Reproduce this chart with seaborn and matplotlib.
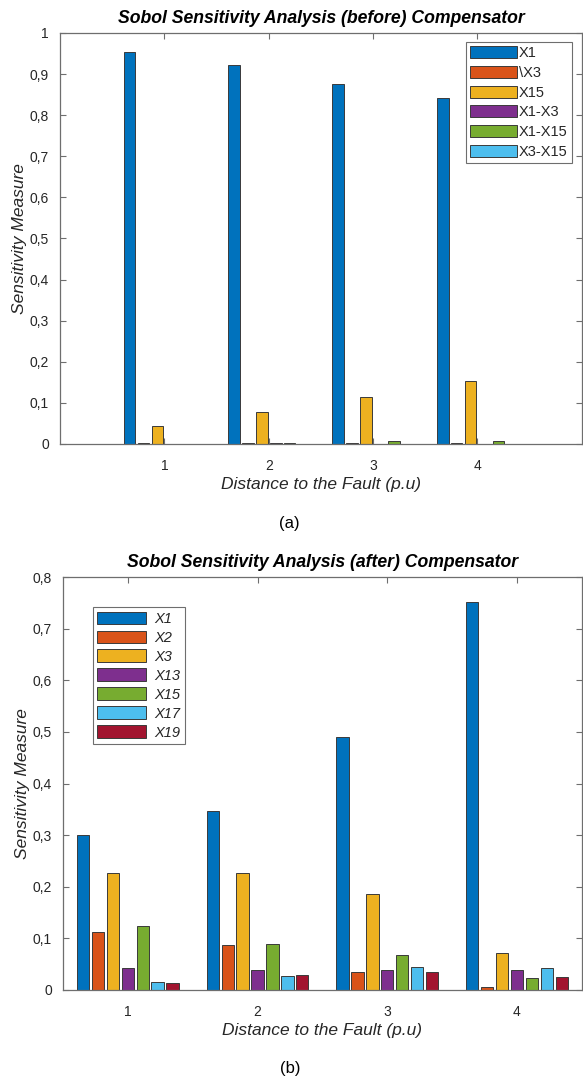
import numpy as np
import pandas as pd
import matplotlib
matplotlib.use("Agg")
import matplotlib.pyplot as plt
from matplotlib.patches import Patch
from matplotlib.ticker import FuncFormatter, MultipleLocator
import seaborn as sns

sns.set_theme(style="white")
plt.rcParams['font.family'] = ['Liberation Sans', 'DejaVu Sans']

# ---------------- data ----------------
distances = ["1", "2", "3", "4"]

top_params = ["X1", "\\X3", "X15", "X1-X3", "X1-X15", "X3-X15"]
top_x1 = [0.953, 0.922, 0.876, 0.841]
top_x3 = [0.002, 0.002, 0.002, 0.002]
top_x15 = [0.043, 0.077, 0.115, 0.153]
top_x1x3 = [0.001, 0.002, 0.001, 0.001]
top_x1x15 = [0.001, 0.002, 0.007, 0.007]
top_x3x15 = [0.001, 0.001, 0.001, 0.001]

bot_params = ["X1", "X2", "X3", "X13", "X15", "X17", "X19"]
bot_x1 = [0.300, 0.347, 0.490, 0.752]
bot_x2 = [0.112, 0.087, 0.034, 0.006]
bot_x3 = [0.227, 0.226, 0.186, 0.071]
bot_x13 = [0.043, 0.039, 0.038, 0.039]
bot_x15 = [0.124, 0.090, 0.068, 0.023]
bot_x17 = [0.015, 0.027, 0.045, 0.043]
bot_x19 = [0.013, 0.029, 0.035, 0.025]

colors = ["#0072BD", "#D95319", "#EDB120", "#7E2F8E", "#77AC30", "#4DBEEE", "#A2142F"]

top_vals = [top_x1, top_x3, top_x15, top_x1x3, top_x1x15, top_x3x15]
bot_vals = [bot_x1, bot_x2, bot_x3, bot_x13, bot_x15, bot_x17, bot_x19]


def long_df(params, vals):
    rows = []
    for p, v in zip(params, vals):
        for d, val in zip(distances, v):
            rows.append({"Distance": d, "Param": p, "Value": val})
    return pd.DataFrame(rows)


df_top = long_df(top_params, top_vals)
df_bot = long_df(bot_params, bot_vals)

fig = plt.figure(figsize=(5.83, 10.81), dpi=100)
ax1 = fig.add_axes([0.103, 0.5893, 0.895, 0.3802])
ax2 = fig.add_axes([0.108, 0.0842, 0.890, 0.3820])

edge = "#3a3a3a"
axis_col = "#6e6e6e"
txt_col = "#262626"
fmt = FuncFormatter(lambda v, p: f"{v:.1f}".rstrip('0').rstrip('.').replace('.', ','))


def style_axes(ax, ymax, xlim):
    ax.set_ylim(0, ymax)
    ax.set_xlim(*xlim)
    ax.yaxis.set_major_locator(MultipleLocator(0.1))
    ax.yaxis.set_major_formatter(fmt)
    ax.tick_params(direction='in', length=4, width=0.8, color=axis_col,
                   labelcolor=txt_col, labelsize=10, top=True, right=True,
                   left=True, bottom=True)
    ax.tick_params(axis='x', pad=11)
    ax.tick_params(axis='y', pad=8)
    for s in ax.spines.values():
        s.set_color(axis_col)
        s.set_linewidth(0.9)
        s.set_visible(True)
    ax.set_xlabel("Distance to the Fault (p.u)", fontsize=12.5, style='italic',
                  color=txt_col, labelpad=3)
    ax.set_ylabel("Sensitivity Measure", fontsize=12.5, style='italic',
                  color=txt_col, labelpad=2)
    ax.set_facecolor("white")


sns.barplot(data=df_top, x="Distance", y="Value", hue="Param", order=distances,
            hue_order=top_params, palette=colors[:6], saturation=1, width=0.8, gap=0.16,
            edgecolor=edge, linewidth=0.7, legend=False, ax=ax1)
style_axes(ax1, 1.0, (-1.0, 4.0))
ax1.set_title("Sobol Sensitivity Analysis (before) Compensator", fontsize=12.7,
              fontweight='bold', style='italic', color='black', pad=7)
h1 = [Patch(facecolor=c, edgecolor=edge, linewidth=0.7) for c in colors[:6]]
leg1 = ax1.legend(h1, top_params, loc='upper right', bbox_to_anchor=(0.981, 0.978),
                  borderaxespad=0, fontsize=10.5, handlelength=3.2, handleheight=0.9,
                  labelspacing=0.38, handletextpad=0.15, borderpad=0.3,
                  fancybox=False, framealpha=1, edgecolor=axis_col)
leg1.get_frame().set_linewidth(0.8)

sns.barplot(data=df_bot, x="Distance", y="Value", hue="Param", order=distances,
            hue_order=bot_params, palette=colors, saturation=1, width=0.805, gap=0.17,
            edgecolor=edge, linewidth=0.7, legend=False, ax=ax2)
style_axes(ax2, 0.8, (-0.5, 3.5))
ax2.set_title("Sobol Sensitivity Analysis (after) Compensator", fontsize=12.7,
              fontweight='bold', style='italic', color='black', pad=7)
h2 = [Patch(facecolor=c, edgecolor=edge, linewidth=0.7) for c in colors]
leg2 = ax2.legend(h2, bot_params, loc='upper left', bbox_to_anchor=(0.058, 0.927),
                  borderaxespad=0, handlelength=3.3, handleheight=0.95,
                  labelspacing=0.32, handletextpad=0.6, borderpad=0.3,
                  fancybox=False, framealpha=1, edgecolor=axis_col,
                  prop={'style': 'italic', 'size': 10.5})
leg2.get_frame().set_linewidth(0.8)

fig.text(0.497, 1 - 524 / 1081, "(a)", ha='center', va='center', fontsize=12, color='black')
fig.text(0.497, 1 - 1068 / 1081, "(b)", ha='center', va='center', fontsize=12, color='black')

fig.savefig("out.png", dpi=100, facecolor='white')
